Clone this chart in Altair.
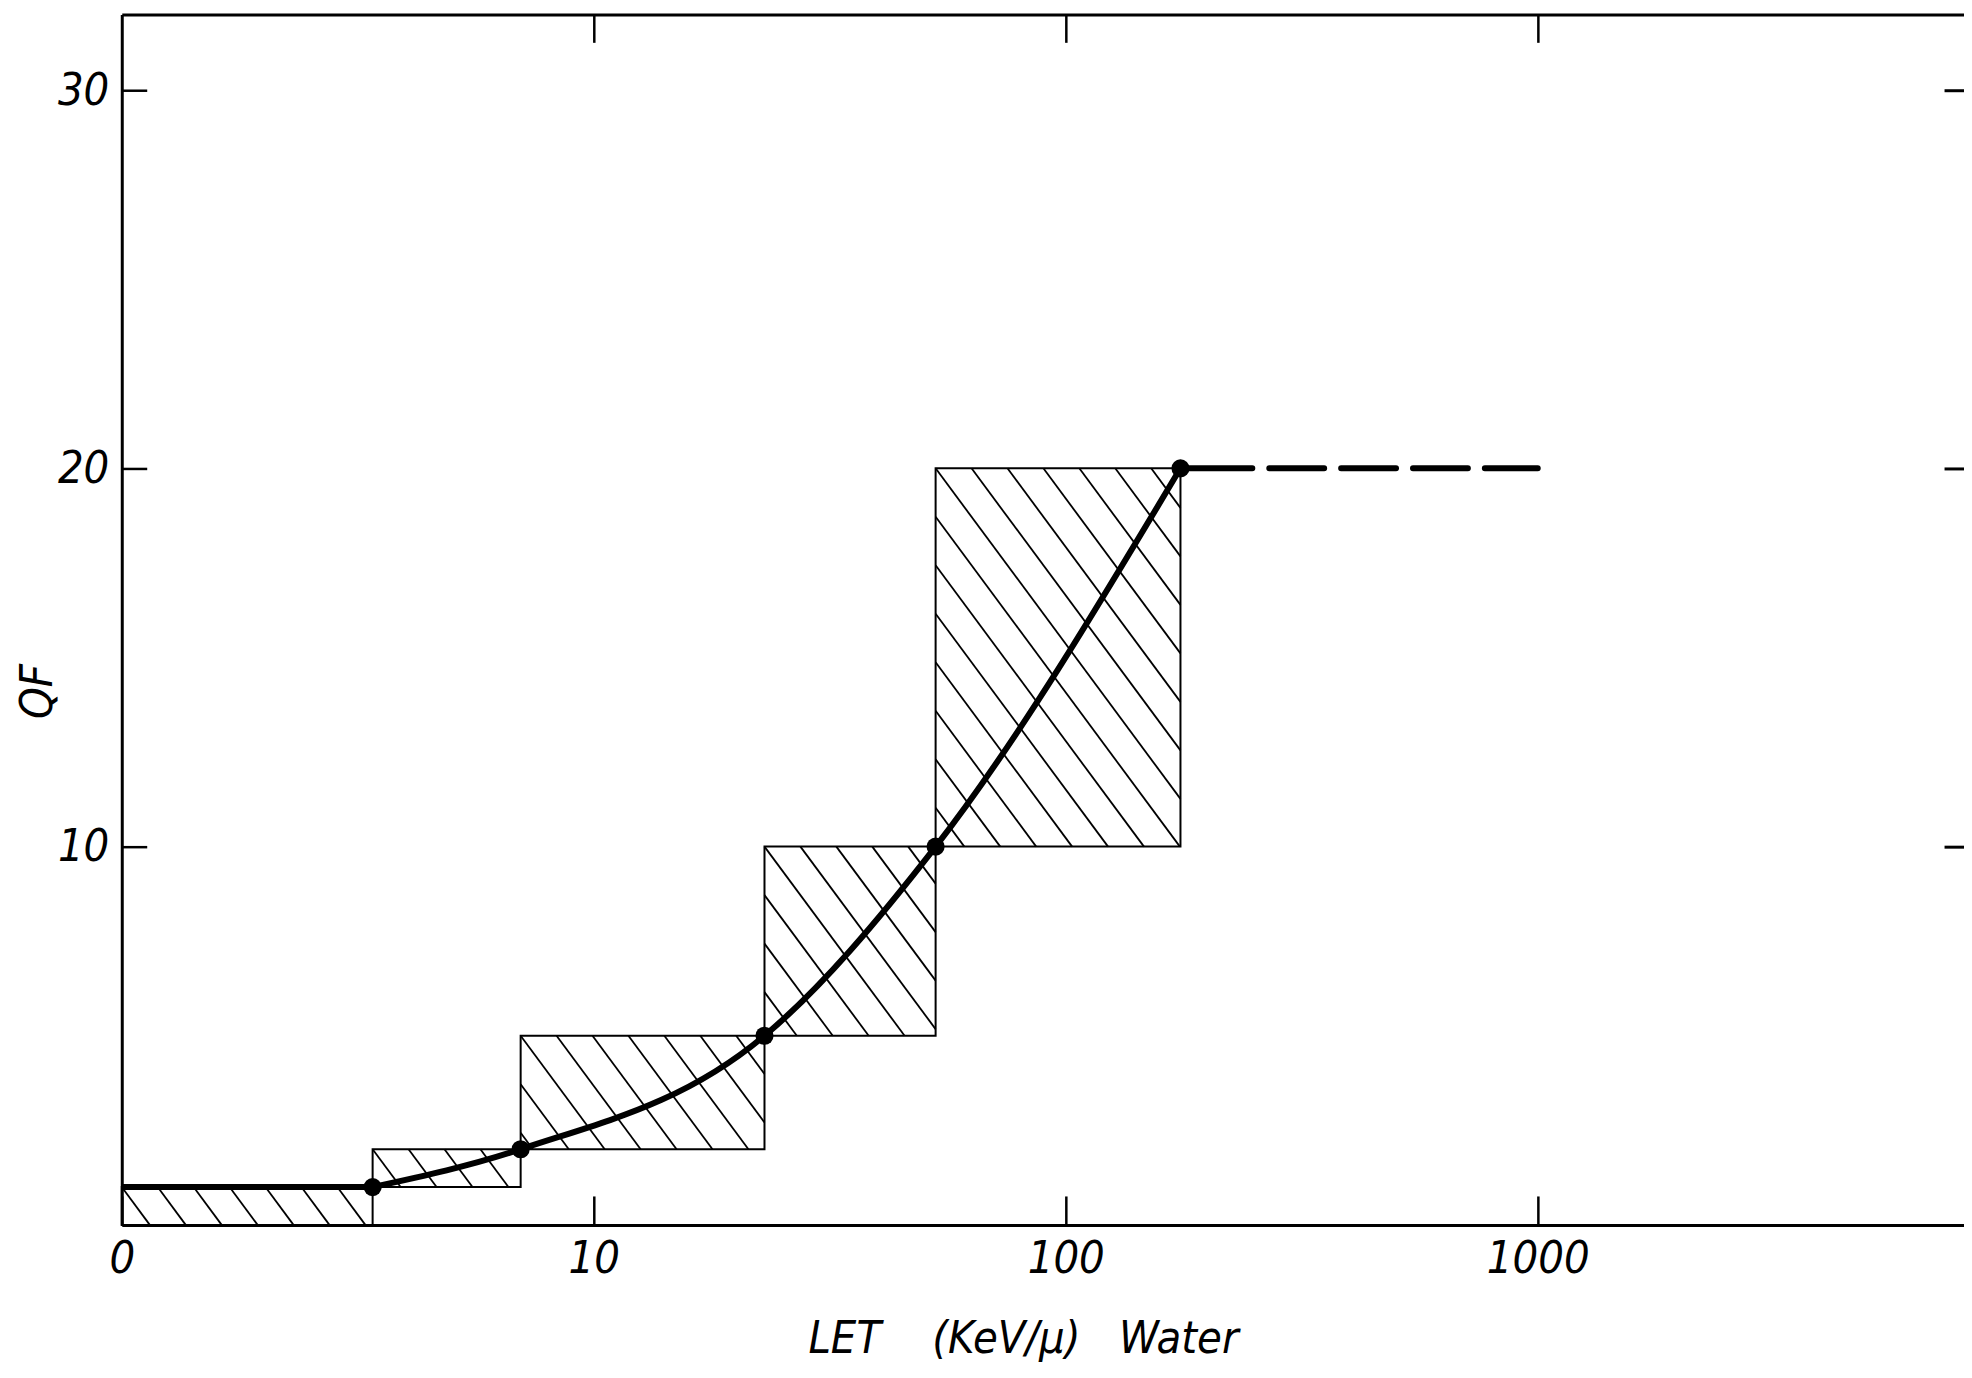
import math
import altair as alt
import pandas as pd

# ---------------- data ----------------
let_points = [3.4, 7, 23, 53, 175]          # LET (keV/µ) of the marked points
qf_points = [1, 2, 5, 10, 20]               # QF at those points
box_x0 = [1, 3.4, 7, 23, 53]                # hatched boxes: LET from
box_x1 = [3.4, 7, 23, 53, 175]              # LET to
box_y0 = [0, 1, 2, 5, 10]                   # QF from
box_y1 = [1, 2, 5, 10, 20]                  # QF to
flat_let = [1, 3.4]                         # flat part of the curve
flat_qf = [1, 1]
dash_let = [175, 1000]                      # dashed continuation
dash_qf = [20, 20]
x_tick_values = [1, 10, 100, 1000]
x_tick_labels = ["0", "10", "100", "1000"]
top_tick_values = [10, 100, 1000]
y_tick_values = [10, 20, 30]

# ---------------- layout / style ----------------
X_DOMAIN = [1, 8000]
Y_DOMAIN = [0, 32]
W, H = 1846, 1213
FONT = "DejaVu Sans Condensed, DejaVu Sans"
HATCH_SLOPE = 1.35      # pixel slope of hatch lines (down-right)
HATCH_STEP = 36         # horizontal spacing of hatch lines in pixels

LOGMAX = math.log10(X_DOMAIN[1]) - math.log10(X_DOMAIN[0])


def px(x):
    return (math.log10(x) - math.log10(X_DOMAIN[0])) / LOGMAX * W


def py(y):
    return (Y_DOMAIN[1] - y) / (Y_DOMAIN[1] - Y_DOMAIN[0]) * H


def inv_px(p):
    return 10 ** (p / W * LOGMAX + math.log10(X_DOMAIN[0]))


def inv_py(p):
    return Y_DOMAIN[1] - p / H * (Y_DOMAIN[1] - Y_DOMAIN[0])


# hatch segments derived from the boxes
hatch = []
s = HATCH_SLOPE
delta = s * HATCH_STEP
for a, b, c0, c1 in zip(box_x0, box_x1, box_y0, box_y1):
    L, R = px(a), px(b)
    T, B = py(c1), py(c0)
    c_start = T - s * L
    cmin, cmax = T - s * R, B - s * L
    k0 = math.ceil((cmin - c_start) / delta)
    k1 = math.floor((cmax - c_start) / delta)
    for k in range(k0, k1 + 1):
        c = c_start + k * delta
        pa = max(L, (T - c) / s)
        pb = min(R, (B - c) / s)
        if pb - pa > 2:
            hatch.append({
                "x": inv_px(pa), "y": inv_py(s * pa + c),
                "x2": inv_px(pb), "y2": inv_py(s * pb + c),
            })

hatch_df = pd.DataFrame(hatch)
box_df = pd.DataFrame({"x0": box_x0, "x1": box_x1, "y0": box_y0, "y1": box_y1})
pts_df = pd.DataFrame({"let": let_points, "qf": qf_points})
flat_df = pd.DataFrame({"let": flat_let, "qf": flat_qf})
dash_df = pd.DataFrame({"let": dash_let, "qf": dash_qf})

xscale = alt.Scale(type="log", domain=X_DOMAIN, nice=False)
yscale = alt.Scale(domain=Y_DOMAIN, nice=False, zero=False)

label_expr = ""
for v, lab in zip(x_tick_values, x_tick_labels):
    label_expr += f"datum.value == {v} ? '{lab}' : "
label_expr += "''"

nb = "\u00a0"
x_title = "LET" + nb * 4 + "(KeV/µ)" + nb * 3 + "Water"

bottom_axis = alt.Axis(
    orient="bottom", values=x_tick_values, labelExpr=label_expr,
    tickSize=alt.ExprRef(expr="-29"), tickWidth=2.5, tickColor="black",
    domainWidth=3, domainColor="black",
    labelPadding=29 + 12, labelFontSize=45, labelFont=FONT, labelFontStyle="italic",
    labelBaseline="top", labelAlign="center", labelFlush=False, labelColor="black",
    title=x_title, titleFontSize=45, titleFont=FONT, titleFontStyle="italic",
    titleFontWeight="normal", titleColor="black",
    titleX=903, titleY=128, titleBaseline="alphabetic", titleAlign="center",
)
left_axis = alt.Axis(
    orient="left", values=y_tick_values,
    tickSize=alt.ExprRef(expr="-25"), tickWidth=2.5, tickColor="black",
    domainWidth=3, domainColor="black",
    labelPadding=25 + 13, labelFontSize=45, labelFont=FONT, labelFontStyle="italic",
    labelBaseline="middle", labelAlign="right", labelFlush=False, labelColor="black",
    title="QF", titleFontSize=45, titleFont=FONT, titleFontStyle="italic",
    titleFontWeight="normal", titleColor="black",
    titleX=-84, titleY=678, titleAngle=270, titleAlign="center", titleBaseline="middle",
)
top_axis = alt.Axis(
    orient="top", values=top_tick_values, labels=False,
    tickSize=alt.ExprRef(expr="-28"), tickWidth=2.5, tickColor="black",
    domainWidth=3, domainColor="black", title=None,
)
right_axis = alt.Axis(
    orient="right", values=y_tick_values, labels=False, domain=False,
    tickSize=alt.ExprRef(expr="-20"), tickWidth=3, tickColor="black", title=None,
)

hatch_layer = alt.Chart(hatch_df).mark_rule(color="black", strokeWidth=1.8).encode(
    x=alt.X("x:Q", scale=xscale, axis=None),
    x2="x2:Q",
    y=alt.Y("y:Q", scale=yscale, axis=None),
    y2="y2:Q",
)

box_layer = alt.Chart(box_df).mark_rect(
    fill="white", fillOpacity=0, stroke="black", strokeWidth=2
).encode(
    x=alt.X("x0:Q", scale=xscale, axis=bottom_axis),
    x2="x1:Q",
    y=alt.Y("y0:Q", scale=yscale, axis=left_axis),
    y2="y1:Q",
)

flat_layer = alt.Chart(flat_df).mark_line(color="black", strokeWidth=6).encode(
    x=alt.X("let:Q", scale=xscale, axis=None),
    y=alt.Y("qf:Q", scale=yscale, axis=None),
)

curve_layer = alt.Chart(pts_df).mark_line(
    color="black", strokeWidth=6, interpolate="monotone"
).encode(
    x=alt.X("let:Q", scale=xscale, axis=None),
    y=alt.Y("qf:Q", scale=yscale, axis=None),
)

dash_layer = alt.Chart(dash_df).mark_line(
    color="black", strokeWidth=6, strokeCap="round",
    strokeDash=[72, 17, 55, 17, 55, 17, 55, 17, 55],
).encode(
    x=alt.X("let:Q", scale=xscale, axis=None),
    y=alt.Y("qf:Q", scale=yscale, axis=None),
)

point_layer = alt.Chart(pts_df).mark_circle(color="black", size=330, opacity=1).encode(
    x=alt.X("let:Q", scale=xscale, axis=top_axis),
    y=alt.Y("qf:Q", scale=yscale, axis=right_axis),
)

chart = alt.layer(
    hatch_layer, box_layer, flat_layer, curve_layer, dash_layer, point_layer
).resolve_axis(x="independent", y="independent").properties(
    width=W, height=H,
    autosize=alt.AutoSizeParams(type="none"),
    padding={"left": 114, "top": 5, "right": 0, "bottom": 144},
    background="white",
).configure_view(stroke=None).configure_axis(grid=False)

chart.save("out.html", embed_options={"renderer": "svg", "actions": False})
